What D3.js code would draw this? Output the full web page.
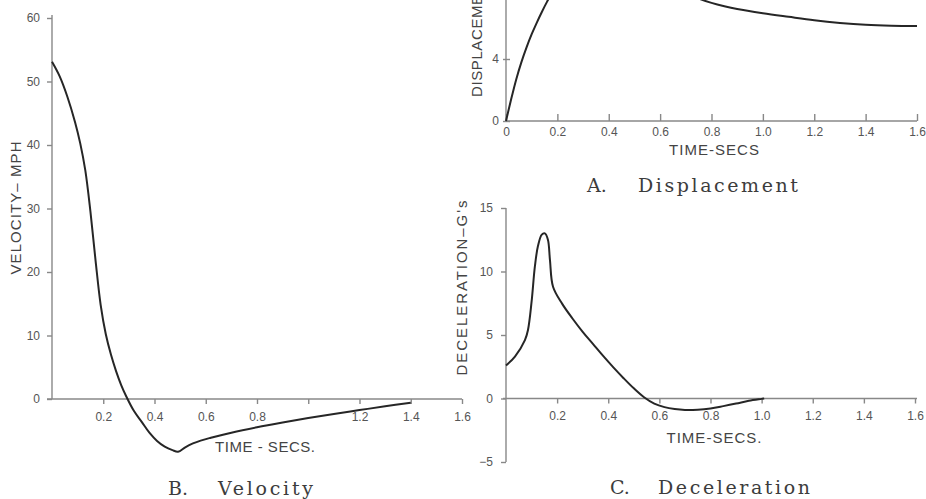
<!DOCTYPE html>
<html>
<head>
<meta charset="utf-8">
<script src="https://cdn.jsdelivr.net/npm/d3@7"></script>
<style>
  html, body { margin: 0; padding: 0; background: #fff; }
  svg { display: block; }
  .tick text { font-family: "Liberation Sans", Arial, sans-serif; font-size: 12px; fill: #555; }
  .tick line, .domain { stroke: #888; stroke-width: 1.4px; }
  .atitle { font-family: "Liberation Sans", Arial, sans-serif; font-size: 15px; fill: #444; }
  .ptitle { font-family: "DejaVu Serif", "Liberation Serif", serif; font-size: 19px; fill: #3c3c3c; }
  .curve { fill: none; stroke: #262626; stroke-width: 2px; stroke-linejoin: round; }
</style>
</head>
<body>
<script>
// ---------- DATA ----------
// B. Velocity (mph vs seconds)
const velTime = [0, 0.03, 0.06, 0.09, 0.11, 0.13, 0.15, 0.17, 0.19, 0.21, 0.23, 0.25, 0.27, 0.29, 0.32, 0.35, 0.38, 0.41, 0.44, 0.47, 0.492, 0.52, 0.55, 0.58, 0.62, 0.7, 0.8, 0.9, 1.0, 1.1, 1.2, 1.3, 1.4];
const velMph  = [53.1, 50.8, 47.6, 43.6, 40.3, 36.0, 29.5, 21.8, 14.8, 10.2, 7.0, 4.4, 2.2, 0.4, -1.9, -3.6, -5.3, -6.6, -7.5, -8.05, -8.3, -7.6, -7.0, -6.55, -6.1, -5.3, -4.45, -3.7, -3.0, -2.35, -1.75, -1.15, -0.6];
const velYTicks = [0, 10, 20, 30, 40, 50, 60];
const velXTicks = [0.2, 0.4, 0.6, 0.8, 1.0, 1.2, 1.4, 1.6];
const velXLabels = ["0.2", "0.4", "0.6", "0.8", "", "1.2", "1.4", "1.6"];

// A. Displacement (ft vs seconds) — upper part is cut off by the page edge
const dispTime = [0, 0.02, 0.04, 0.06, 0.08, 0.1, 0.12, 0.14, 0.16, 0.18, 0.2, 0.25, 0.3, 0.35, 0.4, 0.5, 0.6, 0.7, 0.75, 0.8, 0.85, 0.9, 1.0, 1.1, 1.2, 1.3, 1.4, 1.5, 1.6];
const dispFt   = [0, 1.4, 2.7, 3.8, 4.75, 5.6, 6.35, 7.05, 7.7, 8.3, 8.85, 9.6, 10.0, 10.1, 10.0, 9.6, 9.0, 8.25, 7.9, 7.62, 7.4, 7.22, 6.95, 6.72, 6.5, 6.33, 6.21, 6.15, 6.13];
const dispYTicks = [0, 4];
const dispXTicks = [0, 0.2, 0.4, 0.6, 0.8, 1.0, 1.2, 1.4, 1.6];
const dispXLabels = ["0", "0.2", "0.4", "0.6", "0.8", "1.0", "1.2", "1.4", "1.6"];

// C. Deceleration (G's vs seconds)
const decTime = [0, 0.035, 0.074, 0.086, 0.1, 0.113, 0.125, 0.14, 0.152, 0.164, 0.172, 0.184, 0.22, 0.26, 0.3, 0.34, 0.38, 0.42, 0.46, 0.5, 0.54, 0.58, 0.62, 0.66, 0.7, 0.75, 0.8, 0.85, 0.9, 0.95, 1.0, 1.01];
const decG    = [2.6, 3.3, 4.6, 5.4, 7.6, 10.4, 12.0, 12.9, 13.0, 12.5, 10.9, 8.8, 7.45, 6.3, 5.25, 4.3, 3.35, 2.45, 1.6, 0.8, 0.1, -0.4, -0.68, -0.83, -0.9, -0.88, -0.78, -0.6, -0.4, -0.18, -0.03, 0];
const decYTicks = [-5, 0, 5, 10, 15];
const decXTicks = [0.2, 0.4, 0.6, 0.8, 1.0, 1.2, 1.4, 1.6];
const decXLabels = ["0.2", "0.4", "0.6", "0.8", "1.0", "1.2", "1.4", "1.6"];

// ---------- DRAW ----------
const W = 926, H = 499;
const svg = d3.select("body").append("svg").attr("width", W).attr("height", H);

function lineGen(x, y) {
  return d3.line().x(d => x(d[0])).y(d => y(d[1])).curve(d3.curveCatmullRom.alpha(0.5));
}
function zip(a, b) { return a.map((v, i) => [v, b[i]]); }

function yTitle(text, x, yMid, len) {
  svg.append("text").attr("class", "atitle")
    .attr("transform", `translate(${x},${yMid}) rotate(-90)`)
    .attr("text-anchor", "middle")
    .attr("textLength", len).attr("lengthAdjust", "spacing")
    .text(text);
}
function xTitle(text, xMid, y, len) {
  svg.append("text").attr("class", "atitle")
    .attr("x", xMid).attr("y", y).attr("text-anchor", "middle")
    .attr("textLength", len).attr("lengthAdjust", "spacing")
    .text(text);
}
function pTitle(letter, lx, word, wx, wlen, y) {
  svg.append("text").attr("class", "ptitle").attr("x", lx).attr("y", y).text(letter);
  svg.append("text").attr("class", "ptitle").attr("x", wx).attr("y", y)
    .attr("textLength", wlen).attr("lengthAdjust", "spacing").text(word);
}

// ----- B. Velocity -----
{
  const x = d3.scaleLinear([0, 1.6], [52, 462]);
  const y = d3.scaleLinear([0, 60], [399, 18]);
  const gy = svg.append("g").attr("transform", `translate(${x(0)},0)`)
    .call(d3.axisLeft(y).tickValues(velYTicks).tickSize(5).tickPadding(7).tickSizeOuter(0).tickFormat(d3.format("d")));
  gy.select(".domain").remove();
  svg.append("line").attr("x1", x(0)).attr("x2", x(0)).attr("y1", y(60) - 3).attr("y2", y(0))
    .attr("stroke", "#888").attr("stroke-width", 1.4);
  const gx = svg.append("g").attr("transform", `translate(0,${y(0)})`)
    .call(d3.axisBottom(x).tickValues(velXTicks).tickSize(5).tickPadding(8).tickSizeOuter(0)
      .tickFormat((d, i) => velXLabels[i]));
  gx.select(".domain").remove();
  svg.append("line").attr("x1", x(0) - 5).attr("x2", x(1.6)).attr("y1", y(0)).attr("y2", y(0))
    .attr("stroke", "#888").attr("stroke-width", 1.4);
  svg.append("path").attr("class", "curve").attr("d", lineGen(x, y)(zip(velTime, velMph)));
  yTitle("VELOCITY– MPH", 21, 208, 133);
  xTitle("TIME - SECS.", 265, 452, 100);
  pTitle("B.", 168, "Velocity", 218, 95, 495);
}

// ----- A. Displacement -----
{
  const x = d3.scaleLinear([0, 1.6], [506, 917]);
  const y = d3.scaleLinear([0, 4], [121, 59]);
  const gy = svg.append("g").attr("transform", `translate(${x(0)},0)`)
    .call(d3.axisLeft(y).tickValues(dispYTicks).tickSize(4).tickPadding(3).tickSizeOuter(0).tickFormat(d3.format("d")));
  gy.select(".domain").remove();
  gy.selectAll(".tick line").attr("x2", 4).attr("x1", -3);
  svg.append("line").attr("x1", x(0)).attr("x2", x(0)).attr("y1", y(0)).attr("y2", -5)
    .attr("stroke", "#888").attr("stroke-width", 1.4);
  const gx = svg.append("g").attr("transform", `translate(0,${y(0)})`)
    .call(d3.axisBottom(x).tickValues(dispXTicks).tickSizeInner(-7).tickPadding(6).tickSizeOuter(0)
      .tickFormat((d, i) => dispXLabels[i]));
  gx.select(".domain").remove();
  svg.append("line").attr("x1", x(0)).attr("x2", x(1.6)).attr("y1", y(0)).attr("y2", y(0))
    .attr("stroke", "#888").attr("stroke-width", 1.4);
  svg.append("path").attr("class", "curve").attr("d", lineGen(x, y)(zip(dispTime, dispFt)));
  svg.append("text").attr("class", "atitle")
    .attr("transform", `translate(482,97) rotate(-90)`)
    .attr("text-anchor", "start").style("letter-spacing", "0.6px")
    .text("DISPLACEMENT – FT");
  xTitle("TIME-SECS", 714, 155, 90);
  pTitle("A.", 587, "Displacement", 638, 160, 192);
}

// ----- C. Deceleration -----
{
  const x = d3.scaleLinear([0, 1.6], [506, 915]);
  const y = d3.scaleLinear([-5, 15], [462, 208]);
  const gy = svg.append("g").attr("transform", `translate(${x(0)},0)`)
    .call(d3.axisLeft(y).tickValues(decYTicks).tickSize(5).tickPadding(8).tickSizeOuter(0).tickFormat(d3.format("d")));
  gy.select(".domain").remove();
  svg.append("line").attr("x1", x(0)).attr("x2", x(0)).attr("y1", y(15)).attr("y2", y(-5))
    .attr("stroke", "#888").attr("stroke-width", 1.4);
  const gx = svg.append("g").attr("transform", `translate(0,${y(0)})`)
    .call(d3.axisBottom(x).tickValues(decXTicks).tickSize(5).tickPadding(8).tickSizeOuter(0)
      .tickFormat((d, i) => decXLabels[i]));
  gx.select(".domain").remove();
  svg.append("line").attr("x1", x(0) - 3).attr("x2", x(1.6) + 2).attr("y1", y(0)).attr("y2", y(0))
    .attr("stroke", "#888").attr("stroke-width", 1.4);
  svg.append("path").attr("class", "curve").attr("d", lineGen(x, y)(zip(decTime, decG)));
  yTitle("DECELERATION–G's", 467, 288, 175);
  xTitle("TIME-SECS.", 714, 443, 95);
  pTitle("C.", 610, "Deceleration", 658, 152, 494);
}
</script>
</body>
</html>
